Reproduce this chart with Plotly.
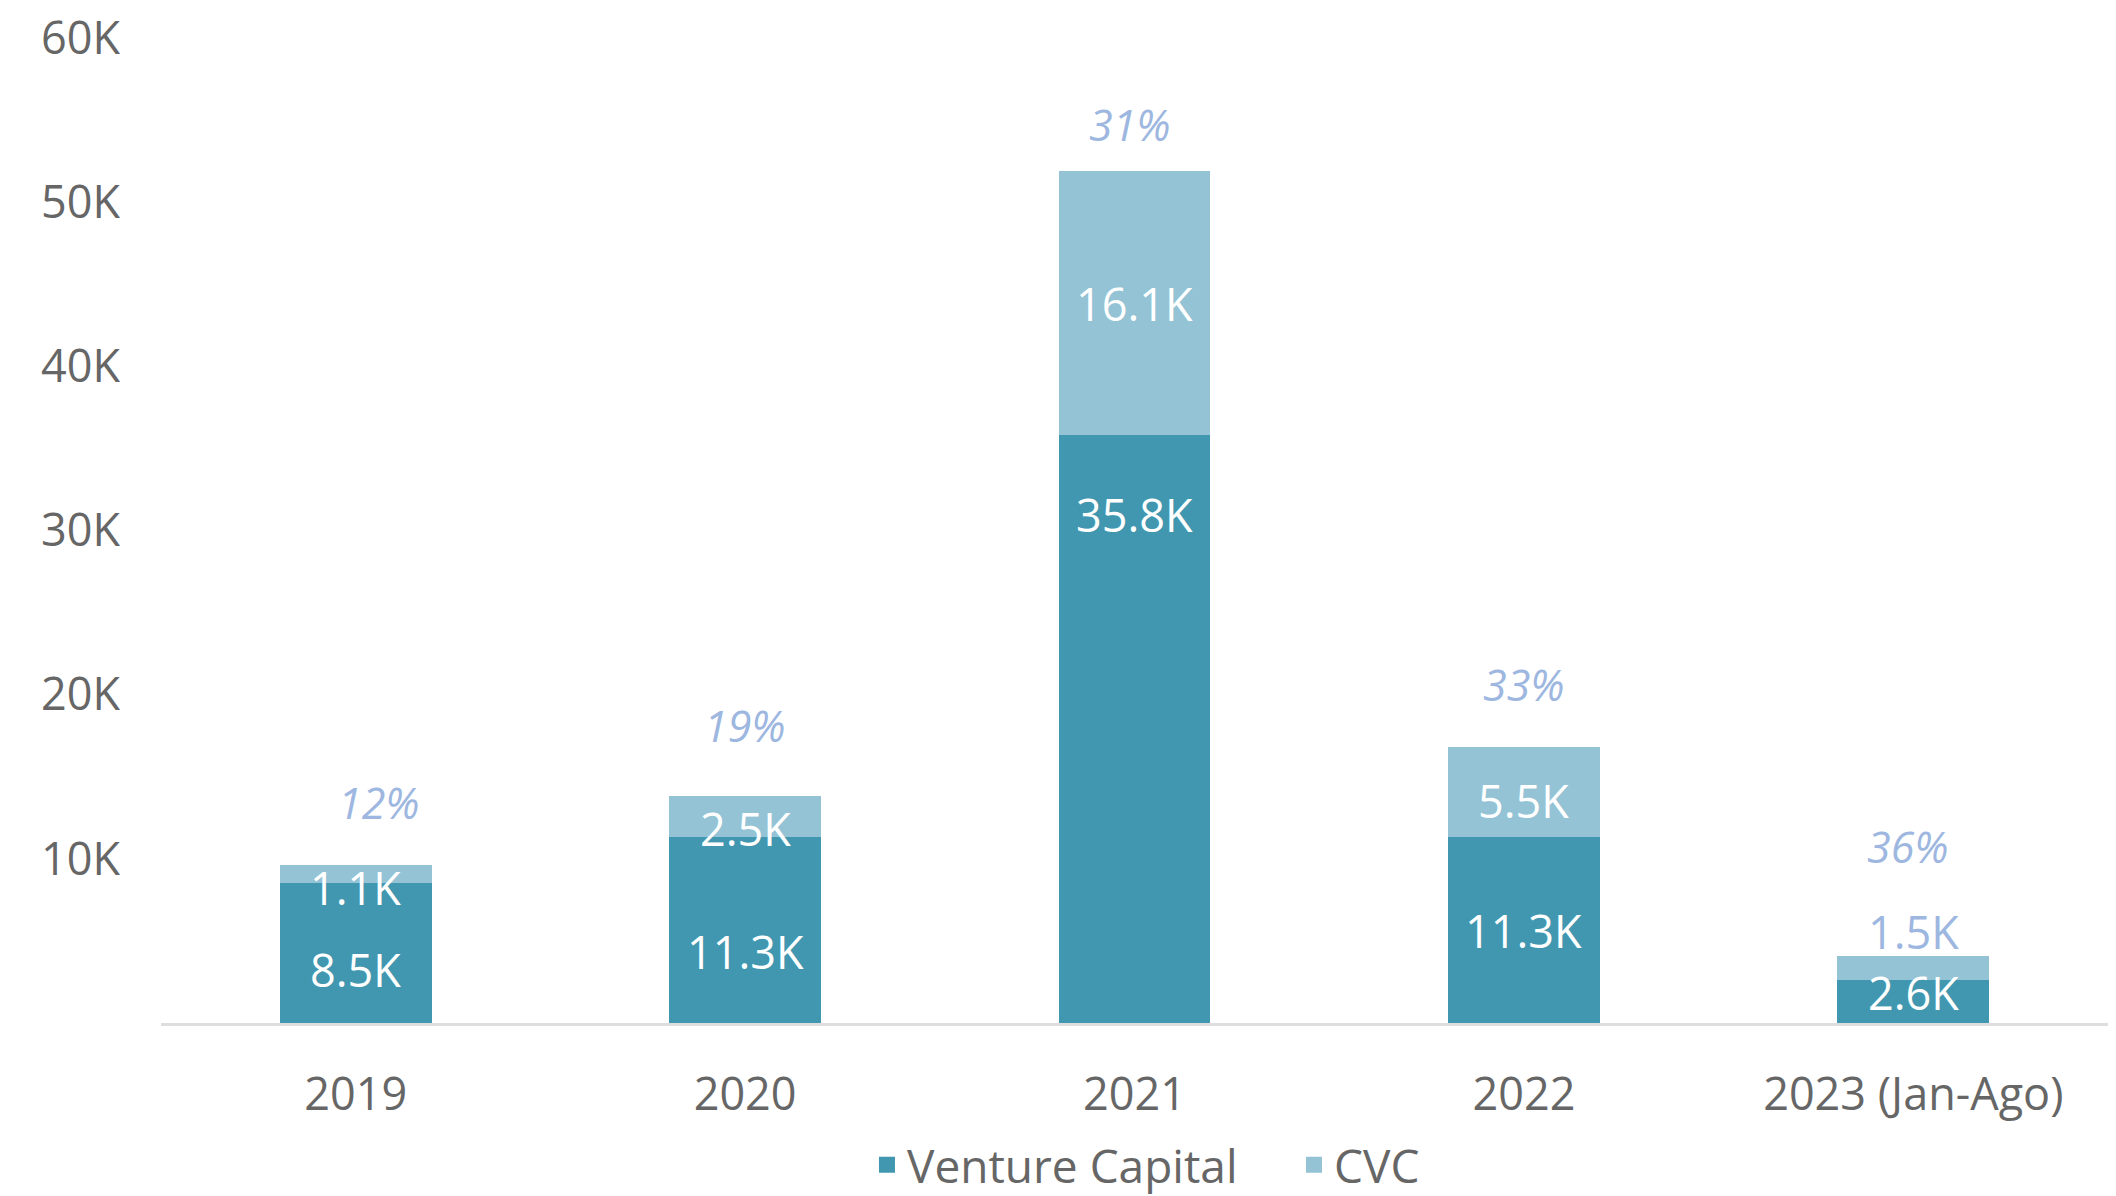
import plotly.graph_objects as go

# ---- data ----
categories = ["2019", "2020", "2021", "2022", "2023 (Jan-Ago)"]
vc_values = [8500, 11300, 35800, 11300, 2600]
cvc_values = [1100, 2500, 16100, 5500, 1500]
vc_labels = ["8.5K", "11.3K", "35.8K", "11.3K", "2.6K"]
cvc_labels = ["1.1K", "2.5K", "16.1K", "5.5K", "1.5K"]
share_labels = ["12%", "19%", "31%", "33%", "36%"]
y_tickvals = [10000, 20000, 30000, 40000, 50000, 60000]
y_ticktext = ["10K", "20K", "30K", "40K", "50K", "60K"]
series_names = ["Venture Capital", "CVC"]

# ---- styles ----
FONT = "Open Sans"
VC_COLOR = "#4197b0"
CVC_COLOR = "#93c3d5"
TEXT_GREY = "#666666"
SHARE_COLOR = "#9db7e0"
FS = 45

# label nudges (pixels) relative to their anchor
vc_shift = [-16, -21, 215, 0, 9]
cvc_shift = [-13, -12, 0, -8, 37]
cvc_inside = [True, True, True, True, False]
share_shift = [63, 71, 46, 63, 109]
share_xshift = [23, 0, -5, 0, -5]

fig = go.Figure()
fig.add_trace(go.Bar(x=categories, y=vc_values, name=series_names[0],
                     marker=dict(color=VC_COLOR, line=dict(width=0)),
                     hoverinfo="skip", showlegend=False))
fig.add_trace(go.Bar(x=categories, y=cvc_values, name=series_names[1],
                     marker=dict(color=CVC_COLOR, line=dict(width=0)),
                     hoverinfo="skip", showlegend=False))
# legend swatches (larger square markers than the default bar swatch)
for name, col in zip(series_names, [VC_COLOR, CVC_COLOR]):
    fig.add_trace(go.Scatter(x=[None], y=[None], mode="markers", name=name,
                             marker=dict(symbol="square", size=16, color=col),
                             hoverinfo="skip", showlegend=True))

annotations = []
for i, cat in enumerate(categories):
    vc = vc_values[i]
    cvc = cvc_values[i]
    annotations.append(dict(x=i, y=vc / 2, xref="x", yref="y", text=vc_labels[i],
                            showarrow=False, yshift=vc_shift[i], yanchor="middle",
                            font=dict(family=FONT, size=FS, color="white")))
    annotations.append(dict(x=i, y=vc + cvc / 2, xref="x", yref="y", text=cvc_labels[i],
                            showarrow=False, yshift=cvc_shift[i], yanchor="middle",
                            font=dict(family=FONT, size=FS,
                                      color="white" if cvc_inside[i] else SHARE_COLOR)))
    annotations.append(dict(x=i, y=vc + cvc, xref="x", yref="y",
                            text="<i>" + share_labels[i] + "</i>",
                            showarrow=False, yshift=share_shift[i], xshift=share_xshift[i],
                            yanchor="middle",
                            font=dict(family=FONT, size=FS - 2, color=SHARE_COLOR)))

fig.update_layout(
    barmode="stack",
    bargap=0.61,
    width=2116, height=1196,
    margin=dict(l=161, r=8, t=38, b=173, autoexpand=False),
    plot_bgcolor="white", paper_bgcolor="white",
    font=dict(family=FONT, size=FS, color=TEXT_GREY),
    showlegend=True,
    legend=dict(orientation="h", x=0.3626, xanchor="left", y=-0.144, yanchor="middle",
                font=dict(family=FONT, size=46, color=TEXT_GREY),
                traceorder="normal", itemwidth=30, entrywidth=382,
                itemsizing="trace", bgcolor="rgba(0,0,0,0)"),
    annotations=annotations,
)
fig.update_xaxes(type="category", showline=True, linecolor="#dedede", linewidth=3,
                 showgrid=False, ticks="", ticklabelstandoff=30, automargin=False,
                 range=[-0.5, len(categories) - 0.5],
                 tickfont=dict(family=FONT, size=FS, color=TEXT_GREY))
fig.update_yaxes(range=[0, 60000], tickvals=y_tickvals, ticktext=y_ticktext,
                 showgrid=False, zeroline=False, showline=False, ticks="",
                 ticklabelstandoff=40, automargin=False,
                 tickfont=dict(family=FONT, size=FS, color=TEXT_GREY))

fig.write_html("out.html", config={"displayModeBar": False},
               post_script="document.body.style.margin='0px';")
